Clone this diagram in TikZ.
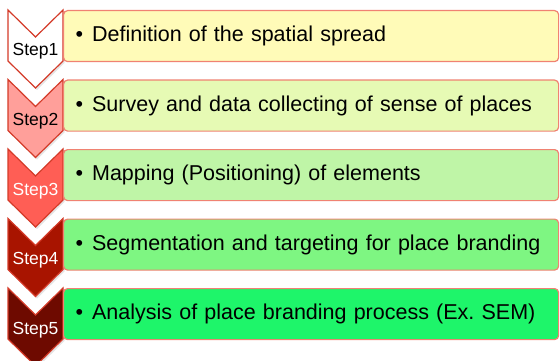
\documentclass[tikz,border=0pt]{standalone}
\usepackage{fontspec}
\setmainfont{Liberation Sans}
\frenchspacing
\definecolor{edgered}{HTML}{D43A28}
\definecolor{boxedge}{HTML}{F08272}
\definecolor{boxA}{HTML}{FFFBB8}
\definecolor{boxB}{HTML}{E6FAB4}
\definecolor{boxC}{HTML}{BFF5A7}
\definecolor{boxD}{HTML}{7EF682}
\definecolor{boxE}{HTML}{1EF56A}
\definecolor{chevA}{HTML}{FFFFFF}
\definecolor{chevB}{HTML}{FF9F9A}
\definecolor{chevC}{HTML}{FF5E55}
\definecolor{chevD}{HTML}{A81400}
\definecolor{chevE}{HTML}{6E0A00}
\begin{document}
\begin{tikzpicture}[x=1pt,y=-1pt,
  chevron/.style={draw=edgered, line width=1.2pt, line join=miter},
  steplabel/.style={anchor=base, inner sep=0pt, font=\fontsize{17.5}{20}\selectfont},
  stepbox/.style={draw=boxedge, line width=1.2pt, rounded corners=4pt,
    minimum width=495pt, minimum height=51pt, anchor=north west,
    inner xsep=12pt, text width=471pt, align=left,
    font=\fontsize{21.5}{25}\selectfont}]
\useasboundingbox (0,0) rectangle (560,361);
\foreach \t/\n/\cf/\tc/\bf/\txt in {
  10/1/chevA/black/boxA/Definition of the spatial spread,
  79.5/2/chevB/black/boxB/Survey and data collecting of sense of places,
  149/3/chevC/white/boxC/Mapping (Positioning) of elements,
  218.5/4/chevD/white/boxD/Segmentation and targeting for place branding,
  288/5/chevE/white/boxE/Analysis of place branding process (Ex. SEM)}{
  % chevron arrow pointing down, with a soft drop shadow
  \fill[black, opacity=0.10] (9.5,\t+2) -- (37,\t+29) -- (64.5,\t+2) -- (64.5,\t+53)
    -- (37,\t+80) -- (9.5,\t+53) -- cycle;
  \draw[chevron, fill=\cf] (8,\t) -- (35.5,\t+27) -- (63,\t) -- (63,\t+51)
    -- (35.5,\t+78) -- (8,\t+51) -- cycle;
  \node[steplabel, text=\tc] (s\n) at (35.5,\t+46) {Step\n};
  % text box beside the chevron
  \node[stepbox, fill=\bf] (b\n) at (63,\t) {\hspace{0pt}•\hspace{9pt}\txt};
}
\end{tikzpicture}
\end{document}
